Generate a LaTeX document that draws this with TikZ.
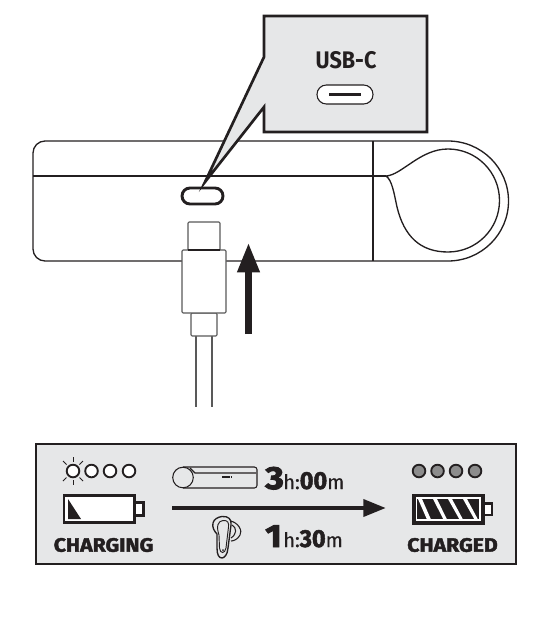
\documentclass[tikz,border=0pt]{standalone}
\usepackage{fontspec}
\setmainfont{Fira Sans}
\newfontfamily\statefont[BoldFeatures={FakeBold=2.2,FakeStretch=1.1}]{Fira Sans}
\newfontfamily\digitfont[BoldFeatures={FakeBold=3,FakeStretch=1.12}]{Fira Sans}
\newfontfamily\minutefont[BoldFeatures={FakeBold=2,FakeStretch=0.95}]{Fira Sans}
\newfontfamily\unitfont[FakeBold=0.6]{Fira Sans}
\newfontfamily\usbfont[FakeStretch=0.9]{Fira Sans}
\usepackage{tikz}
\usetikzlibrary{arrows.meta, positioning}
\definecolor{panelgray}{HTML}{E6E7E8}
\definecolor{inkblack}{HTML}{231F20}
\definecolor{ledgray}{HTML}{8C8C8C}
\newcommand{\unittext}[1]{{\unitfont\fontsize{15}{16}\selectfont #1}}
\newcommand{\minutetext}[1]{{\minutefont\bfseries\fontsize{18.5}{19}\selectfont #1}}

\begin{document}
\begin{tikzpicture}[
  x=0.75pt, y=-0.75pt,
  outline/.style={draw=inkblack, line width=1pt, line join=round},
  thickline/.style={draw=inkblack, line width=2pt, line join=miter},
  plugpart/.style={draw=black!65, line width=0.8pt, fill=white, rounded corners=0.8pt},
  led/.style={draw=inkblack, line width=1.4pt, fill=white},
  fullled/.style={draw=inkblack, line width=1.4pt, fill=ledgray},
  ray/.style={draw=inkblack, line width=0.6pt},
  thinicon/.style={draw=inkblack, line width=0.8pt},
  stateword/.style={font=\statefont\fontsize{14.5}{15}\selectfont\bfseries, text=inkblack, inner sep=0pt},
  bigdigit/.style={font=\digitfont\fontsize{24}{25}\selectfont\bfseries, text=inkblack, inner sep=0pt, anchor=base west},
  timerest/.style={text=inkblack, inner sep=0pt, anchor=base west}
]
\useasboundingbox (0,0) rectangle (556,617);

% charging case
\draw[outline] (373,141) -- (45,141) to[out=180,in=90] (33,153) -- (33,249) to[out=270,in=180] (45,261) -- (448,261)
  arc[start angle=90, end angle=-90, x radius=60.5, y radius=60] -- cycle;
\draw[outline, line width=1.5pt] (33,176) -- (386,176);
\draw[outline] (373,141) -- (373,261);
\draw[outline] (386,176) .. controls (402,175) and (420,149) .. (448,149)
  arc[start angle=-90, end angle=90, x radius=51.5, y radius=51.5]
  .. controls (420,252) and (404,236) .. (397,207) .. controls (394,193) and (392,180) .. (386,176);
\draw[draw=inkblack, line width=2.2pt, rounded corners=6pt] (182,188) rectangle (223,204);

% callout
\draw[thickline, fill=panelgray] (264,16) -- (427,16) -- (427,132) -- (264,132) -- (264,107) -- (205,182) -- (264,57) -- cycle;
\node[font=\usbfont\fontsize{18}{19}\selectfont\bfseries, text=inkblack, inner sep=0pt] (usblabel) at (346,60) {USB-C};
\draw[draw=inkblack, line width=0.8pt, fill=white, rounded corners=7pt] (317,85) rectangle (373,104);
\draw[draw=inkblack, line width=1.8pt] (329,94.5) -- (361,94.5);

% cable
\draw[draw=black!65, line width=0.8pt] (196,336) -- (196,407);
\draw[draw=black!65, line width=0.8pt] (212,336) -- (212,407);
\draw[plugpart] (188,250) -- (188,222) -- (220,222) -- (220,250);
\draw[plugpart] (191,313) rectangle (217,336);
\draw[plugpart] (182,250) rectangle (226,313);
\draw[draw=inkblack, line width=1pt] (188,250) -- (220,250);

% push arrow
\coordinate (pushstart) at (248.5,334);
\coordinate (pushend) at (248.5,243);
\draw[-{Triangle[length=22pt, width=16pt]}, draw=inkblack, fill=inkblack, line width=4.6pt] (pushstart) -- (pushend);

% panel
\draw[draw=inkblack, line width=2.2pt, fill=panelgray] (36,444) rectangle (516,564);

% leds while charging
\draw[led] (73,471) circle[radius=6.3];
\draw[led] (91.5,471) circle[radius=6.3];
\draw[led] (110,471) circle[radius=6.3];
\draw[led] (129,471) circle[radius=6.3];
\draw[ray] (73,457) -- (73,462);
\draw[ray] (73,480) -- (73,485);
\draw[ray] (63,461) -- (66.5,464.5);
\draw[ray] (83,461) -- (79.5,464.5);
\draw[ray] (63,481) -- (66.5,477.5);
\draw[ray] (83,481) -- (79.5,477.5);

% empty battery
\draw[draw=inkblack, line width=1.8pt, fill=white] (135,502.5) rectangle (143.5,515.5);
\draw[draw=inkblack, line width=2pt, fill=white] (64,495.5) rectangle (134.5,522.5);
\fill[inkblack] (68,499) -- (68,519) -- (81,519) -- cycle;
\node[stateword] (charging) at (103.5,545) {CHARGING};

% case icon
\draw[thinicon, rounded corners=2pt] (183,467) -- (257,467) -- (257,488) -- (183,488);
\draw[thinicon] (190,468) -- (195,473) -- (256,473);
\draw[thinicon, fill=panelgray] (183,477.5) circle[radius=10.3];
\draw[draw=inkblack, line width=1.3pt, dash pattern=on 1.2pt off 0.4pt] (222,477) -- (231,477);

% times
\node[bigdigit] (hourdigit) at (265,489) {3};
\node[timerest] (hourrest) at (283,489) {\unittext{h:}\minutetext{00}\unittext{m}};
\node[bigdigit] (halfdigit) at (265,547) {1};
\node[timerest] (halfrest) at (283,547) {\unittext{h:}\minutetext{30}\unittext{m}};

% main arrow
\coordinate (timestart) at (172,508);
\coordinate (timeend) at (386,508);
\draw[-{Triangle[length=17pt, width=12.5pt]}, draw=inkblack, fill=inkblack, line width=3.4pt] (timestart) -- (timeend);

% earbud
\draw[thinicon, fill=panelgray] (230,521) .. controls (238,522) and (243,531) .. (240,535) .. controls (238,539) and (234,541) .. (231,541);
\draw[thinicon] (232,525) .. controls (237,528) and (237,534) .. (231,538);
\draw[draw=inkblack, line width=1pt, fill=panelgray] (222,516.5) .. controls (228,516) and (232,519) .. (231,525) -- (228,548)
  .. controls (227.5,555) and (224,558) .. (222,558) .. controls (219,558) and (217,555) .. (217,548) -- (217,534)
  .. controls (214,531) and (212,527) .. (213,523) .. controls (214,519) and (218,517) .. (222,516.5) -- cycle;
\draw[draw=inkblack, line width=0.7pt] (219,535) .. controls (216,526) and (218,521) .. (223,520.5)
  .. controls (228,520) and (229,523) .. (228.5,527) -- (226,548) .. controls (225,554) and (220,554) .. (219.5,548) -- cycle;
\fill[inkblack] (223,550) circle[radius=1];

% leds when charged
\draw[fullled] (419,471) circle[radius=6.3];
\draw[fullled] (437.5,471) circle[radius=6.3];
\draw[fullled] (456,471) circle[radius=6.3];
\draw[fullled] (475,471) circle[radius=6.3];

% full battery
\draw[draw=inkblack, line width=1.8pt, fill=white] (484,503.5) rectangle (492,515);
\draw[draw=inkblack, fill=inkblack, line width=0.5pt] (412.5,494) rectangle (484,524);
\draw[draw=white, line width=1pt] (416.5,498) rectangle (480,520);
\fill[white] (418,499) -- (422,499) -- (431,519.5) -- (427,519.5) -- cycle;
\fill[white] (433,499) -- (437,499) -- (447,519.5) -- (443.5,519.5) -- cycle;
\fill[white] (448,499) -- (452,499) -- (463,519.5) -- (459.5,519.5) -- cycle;
\fill[white] (463,499) -- (467,499) -- (478,519.5) -- (474.5,519.5) -- cycle;
\node[stateword] (charged) at (452.5,545) {CHARGED};
\end{tikzpicture}
\end{document}
